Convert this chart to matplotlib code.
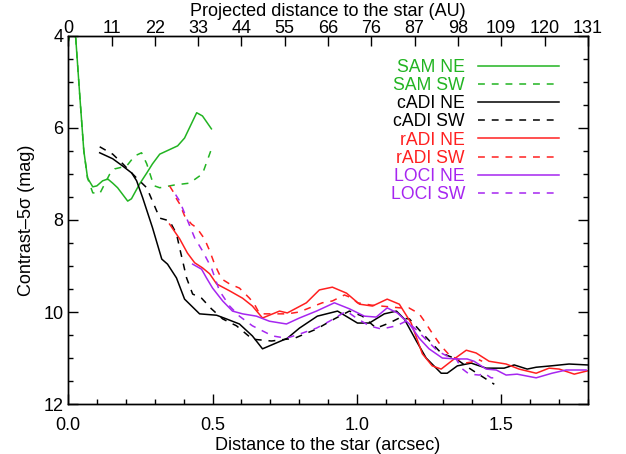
import numpy as np
import matplotlib
matplotlib.use("Agg")
import matplotlib.pyplot as plt
from matplotlib.ticker import MultipleLocator

plt.rcParams['font.family'] = ['Liberation Sans', 'DejaVu Sans']
plt.rcParams['font.size'] = 13

# contrast curves (arcsec, mag)
sam_ne_x = [0.0, 0.006, 0.012, 0.02, 0.026, 0.04, 0.054, 0.067, 0.085, 0.099, 0.119, 0.137, 0.154,
            0.171, 0.206, 0.219, 0.247, 0.272, 0.292, 0.317, 0.379, 0.403, 0.445, 0.465, 0.496]
sam_ne_y = [4.13, 3.9, 3.8, 3.9, 4.05, 5.3, 6.5, 7.09, 7.28, 7.26, 7.15, 7.11, 7.2,
            7.3, 7.59, 7.54, 7.22, 6.98, 6.78, 6.57, 6.39, 6.22, 5.67, 5.74, 6.02]
sam_sw_x = [0.0, 0.012, 0.02, 0.026, 0.04, 0.054, 0.067, 0.085, 0.109, 0.144, 0.161, 0.202, 0.23,
            0.254, 0.272, 0.289, 0.299, 0.317, 0.368, 0.42, 0.465, 0.496]
sam_sw_y = [4.13, 3.8, 3.9, 4.05, 5.3, 6.5, 7.09, 7.41, 7.43, 7.0, 6.89, 6.83, 6.61,
            6.54, 6.78, 7.11, 7.26, 7.3, 7.24, 7.2, 7.0, 6.46]

cadi_ne_x = [0.109, 0.154, 0.189, 0.22, 0.237, 0.258, 0.292, 0.324, 0.344, 0.375, 0.403, 0.455,
             0.514, 0.548, 0.593, 0.638, 0.673, 0.759, 0.801, 0.863, 0.933, 1.002, 1.043, 1.095,
             1.137, 1.164, 1.206, 1.24, 1.292, 1.313, 1.348, 1.396, 1.448, 1.51, 1.545, 1.59,
             1.621, 1.673, 1.735, 1.798]
cadi_ne_y = [6.54, 6.67, 6.83, 6.98, 7.15, 7.52, 8.17, 8.85, 8.96, 9.26, 9.72, 10.04,
             10.07, 10.15, 10.26, 10.52, 10.8, 10.57, 10.35, 10.09, 9.98, 10.24, 10.24, 10.04,
             9.98, 10.15, 10.63, 11.0, 11.33, 11.33, 11.17, 11.11, 11.22, 11.22, 11.15, 11.24,
             11.2, 11.17, 11.13, 11.15]
cadi_sw_x = [0.109, 0.154, 0.189, 0.237, 0.272, 0.317, 0.351, 0.375, 0.386, 0.41, 0.431, 0.462,
             0.496, 0.535, 0.583, 0.638, 0.704, 0.784, 0.86, 0.922, 0.974, 1.019, 1.067, 1.112,
             1.147, 1.182, 1.216, 1.258, 1.292, 1.344, 1.389, 1.431, 1.476]
cadi_sw_y = [6.41, 6.57, 6.78, 7.09, 7.3, 7.96, 8.02, 8.3, 8.61, 9.26, 9.61, 9.7,
             9.93, 10.15, 10.3, 10.59, 10.63, 10.57, 10.37, 10.15, 9.98, 10.09, 10.35, 10.24,
             10.13, 10.15, 10.39, 10.67, 10.89, 11.02, 11.22, 11.39, 11.57]

radi_ne_x = [0.351, 0.386, 0.413, 0.438, 0.465, 0.49, 0.514, 0.559, 0.604, 0.638, 0.673, 0.732,
             0.759, 0.825, 0.87, 0.915, 0.964, 1.009, 1.054, 1.105, 1.147, 1.188, 1.227, 1.261,
             1.292, 1.337, 1.379, 1.413, 1.458, 1.517, 1.562, 1.621, 1.666, 1.701, 1.753, 1.798]
radi_ne_y = [8.09, 8.41, 8.72, 8.93, 9.04, 9.17, 9.39, 9.54, 9.7, 9.87, 10.13, 9.98,
             10.02, 9.8, 9.52, 9.46, 9.59, 9.83, 9.87, 9.72, 9.83, 10.24, 10.91, 11.17,
             11.24, 11.02, 10.83, 10.89, 11.07, 11.13, 11.24, 11.33, 11.22, 11.24, 11.35, 11.28]
radi_sw_x = [0.351, 0.362, 0.375, 0.386, 0.403, 0.427, 0.445, 0.472, 0.49, 0.507, 0.531, 0.559,
             0.593, 0.628, 0.645, 0.663, 0.7, 0.759, 0.8, 0.836, 0.88, 0.915, 0.957, 0.984,
             1.002, 1.05, 1.1, 1.15, 1.18, 1.2, 1.216, 1.234, 1.261, 1.292, 1.327, 1.344,
             1.372, 1.396, 1.417, 1.434]
radi_sw_y = [7.26, 7.37, 7.54, 7.65, 7.91, 8.09, 8.17, 8.41, 8.67, 8.96, 9.28, 9.39,
             9.48, 9.7, 9.83, 10.04, 10.04, 10.04, 10.0, 9.91, 9.8, 9.76, 9.63, 9.7,
             9.8, 9.85, 9.88, 9.91, 9.91, 9.98, 10.04, 10.2, 10.46, 10.74, 10.98, 11.0,
             11.11, 11.09, 11.02, 11.07]

loci_ne_x = [0.431, 0.462, 0.479, 0.5, 0.535, 0.569, 0.604, 0.652, 0.697, 0.756, 0.801, 0.86,
             0.922, 0.974, 1.026, 1.067, 1.105, 1.14, 1.182, 1.216, 1.25, 1.296, 1.344, 1.382,
             1.406, 1.448, 1.483, 1.517, 1.555, 1.621, 1.676, 1.725, 1.794]
loci_ne_y = [8.96, 9.07, 9.26, 9.48, 9.76, 9.98, 10.04, 10.09, 10.2, 10.26, 10.13, 9.98,
             9.8, 9.93, 10.09, 10.11, 9.91, 10.02, 10.26, 10.57, 10.8, 11.0, 11.02, 11.02,
             11.07, 11.24, 11.26, 11.37, 11.35, 11.43, 11.33, 11.26, 11.26]
loci_sw_x = [0.372, 0.386, 0.41, 0.438, 0.465, 0.496, 0.524, 0.559, 0.593, 0.638, 0.708, 0.756,
             0.801, 0.86, 0.905, 0.964, 0.998, 1.043, 1.085, 1.137, 1.17, 1.2, 1.24, 1.28,
             1.31, 1.344, 1.362, 1.389, 1.424, 1.441, 1.465, 1.483]
loci_sw_y = [7.45, 7.59, 7.96, 8.39, 8.67, 9.04, 9.54, 9.87, 10.09, 10.3, 10.52, 10.57,
             10.48, 10.35, 10.2, 9.98, 10.13, 10.3, 10.37, 10.3, 10.2, 10.35, 10.6, 10.85,
             10.95, 11.02, 11.22, 11.35, 11.37, 11.33, 11.43, 11.43]

# top axis: projected distance in AU
au_tick_arcsec = np.arange(13) * 0.15
au_labels = ['0', '11', '22', '33', '44', '55', '66', '76', '87', '98', '109', '120', '131']

green = '#22b422'
black = '#000000'
red = '#ff2020'
purple = '#a626f0'
dash = (0, (4.5, 4.5))

fig = plt.figure(figsize=(6.26, 4.54), dpi=100)
ax = fig.add_axes([0.109, 0.110, 0.830, 0.811])

lw = 1.1
ax.plot(sam_ne_x, sam_ne_y, color=green, lw=lw, label='SAM NE')
ax.plot(sam_sw_x, sam_sw_y, color=green, lw=lw, ls=dash, label='SAM SW')
ax.plot(cadi_ne_x, cadi_ne_y, color=black, lw=lw, label='cADI NE')
ax.plot(cadi_sw_x, cadi_sw_y, color=black, lw=lw, ls=dash, label='cADI SW')
ax.plot(radi_ne_x, radi_ne_y, color=red, lw=lw, label='rADI NE')
ax.plot(radi_sw_x, radi_sw_y, color=red, lw=lw, ls=dash, label='rADI SW')
ax.plot(loci_ne_x, loci_ne_y, color=purple, lw=lw, label='LOCI NE')
ax.plot(loci_sw_x, loci_sw_y, color=purple, lw=lw, ls=dash, label='LOCI SW')

ax.set_xlim(0, 1.8)
ax.set_ylim(12, 4)
ax.xaxis.set_major_locator(MultipleLocator(0.5))
ax.xaxis.set_minor_locator(MultipleLocator(0.1))
ax.yaxis.set_major_locator(MultipleLocator(2))
ax.yaxis.set_minor_locator(MultipleLocator(0.5))
ax.xaxis.set_major_formatter(matplotlib.ticker.FormatStrFormatter('%.1f'))
ax.tick_params(which='both', direction='in', top=False, right=True, width=1)
ax.tick_params(which='major', length=7)
ax.tick_params(which='minor', length=3.5)
ax.tick_params(axis='x', pad=9)
ax.tick_params(axis='y', pad=3.5)
ax.set_xlabel('Distance to the star (arcsec)', labelpad=2.5)
ax.set_ylabel('Contrast–5σ (mag)', labelpad=6)

top = ax.twiny()
top.set_xlim(ax.get_xlim())
top.set_xticks(au_tick_arcsec)
top.set_xticklabels(au_labels)
top.tick_params(axis='x', direction='in', length=7, width=1, pad=-0.5)
top.set_xlabel('Projected distance to the star (AU)', labelpad=2.5)

for a in (ax, top):
    for s in a.spines.values():
        s.set_linewidth(1)

leg = ax.legend(loc='upper right', bbox_to_anchor=(0.944, 0.938), frameon=False,
                markerfirst=False, handlelength=4.6, handletextpad=0.72,
                labelspacing=0.07, borderpad=0, borderaxespad=0, fontsize=12.7)
for t, l in zip(leg.get_texts(), leg.get_lines()):
    t.set_color(l.get_color())

fig.savefig('out.png', dpi=100)
